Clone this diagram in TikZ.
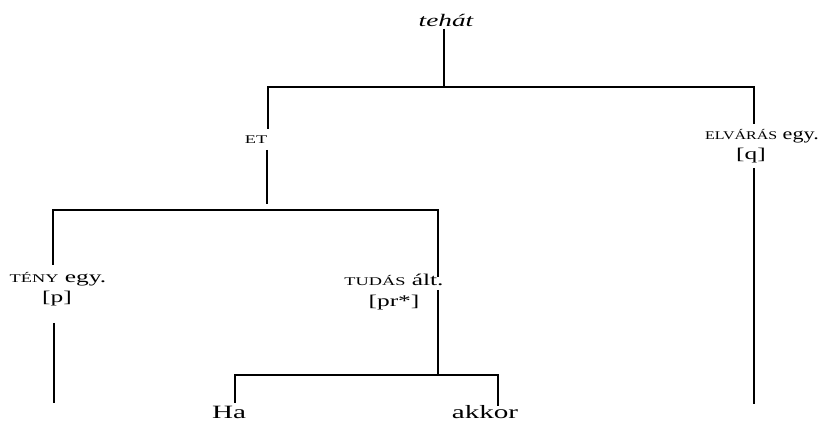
\documentclass[tikz,border=0pt]{standalone}
\usepackage{graphicx}
\usepackage{fontspec}
\setmainfont{Liberation Serif}
\newcommand{\wtxt}[1]{\scalebox{1.55}[1]{#1}}
\newcommand{\ntxt}[1]{\scalebox{1.35}[1]{#1}}
\newcommand{\scp}[1]{{\fontsize{5.9pt}{6pt}\selectfont #1}}
\begin{document}
\begin{tikzpicture}[x=0.5pt,y=-0.5pt,
  tree/.style={line width=1.4pt,line join=miter,line cap=butt},
  thin/.style={line width=1.0pt,line cap=butt},
  lab/.style={inner sep=0pt,anchor=base,font=\fontsize{8.2pt}{9pt}\selectfont},
  big/.style={inner sep=0pt,anchor=base,font=\fontsize{9.4pt}{10pt}\selectfont}]
\useasboundingbox (0,0) rectangle (840,431);
% labels
\node[inner sep=0pt,anchor=base,font=\fontsize{8.8pt}{10pt}\selectfont\itshape] (teh) at (446,27) {\wtxt{teh\'at}};
\node[lab] (et) at (256,144) {\wtxt{\scp{ET}}};
\node[lab] (elv) at (762,140) {\ntxt{\scp{ELV\'AR\'AS} egy.}};
\node[lab] (q) at (751,160) {\wtxt{[q]}};
\node[lab] (teny) at (58,283) {\wtxt{\scp{T\'ENY} egy.}};
\node[lab] (p) at (57,303) {\wtxt{[p]}};
\node[lab] (tud) at (394,286) {\wtxt{\scp{TUD\'AS} \'alt.}};
\node[lab] (pr) at (394,307) {\wtxt{[pr*]}};
\node[big] (ha) at (229,419) {\wtxt{Ha}};
\node[big] (akkor) at (485,419) {\wtxt{akkor}};
% junction coordinates
\coordinate (tehBot) at (444,29);
\coordinate (topBar) at (444,87);
\coordinate (etUp) at (268,129);
\coordinate (etDn) at (267,150);
\coordinate (elvUp) at (754,124);
\coordinate (qDn) at (754,168);
\coordinate (qEnd) at (754,404);
\coordinate (etEnd) at (267,204);
\coordinate (lowBar) at (267,210);
\coordinate (tenyUp) at (53,265);
\coordinate (tudUp) at (438,277);
\coordinate (pDn) at (54,323);
\coordinate (pEnd) at (54,403);
\coordinate (prDn) at (438,290);
\coordinate (haBar) at (438,375);
\coordinate (haUp) at (235,403);
\coordinate (akUp) at (498,406);
% connectors
\draw[tree] (tehBot) -- (topBar);
\draw[tree] (etUp) |- (topBar) -| (elvUp);
\draw[tree] (etDn) -- (etEnd);
\draw[tree] (tenyUp) |- (lowBar) -| (tudUp);
\draw[thin] (qDn) -- (qEnd);
\draw[thin] (pDn) -- (pEnd);
\draw[tree] (prDn) -- (haBar);
\draw[tree] (haUp) |- (haBar) -| (akUp);
\end{tikzpicture}
\end{document}
